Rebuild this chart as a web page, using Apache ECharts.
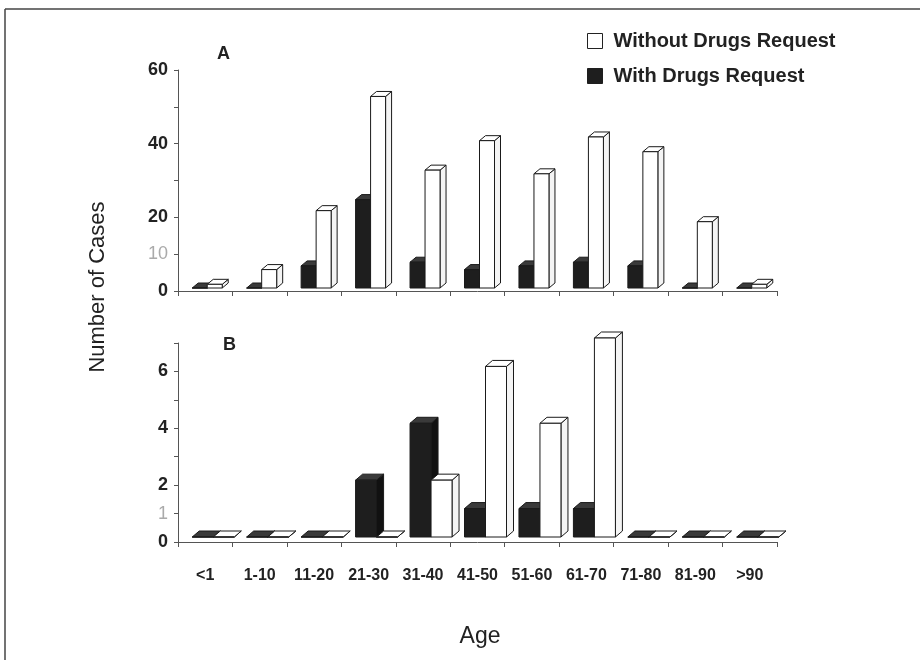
<!DOCTYPE html>
<html>
<head>
<meta charset="utf-8">
<style>
  html, body { margin: 0; padding: 0; background: #fff; }
  #main { width: 920px; height: 660px; }
</style>
<script src="https://cdn.jsdelivr.net/npm/echarts@6/dist/echarts.min.js"></script>
</head>
<body>
<div id="main"></div>
<script>
var categories = ['<1', '1-10', '11-20', '21-30', '31-40', '41-50', '51-60', '61-70', '71-80', '81-90', '>90']

// panel A
var aWith = [0, 0, 6, 24, 7, 5, 6, 7, 6, 0, 0]
var aWithout = [1, 5, 21, 52, 32, 40, 31, 41, 37, 18, 1]

// panel B
var bWith = [0, 0, 0, 2, 4, 1, 1, 1, 0, 0, 0]
var bWithout = [0, 0, 0, 0, 2, 6, 4, 7, 0, 0, 0]

var FONT = '"Liberation Sans", Arial, sans-serif'

// 3d look per panel
var look = [
  { w: 15, dx: 6, dy: 5, lift: 3, offWith: -13, offWithout: 2 },
  { w: 21, dx: 7, dy: 6, lift: 5, offWith: -13, offWithout: 8 }
]

function bar3d(panel, dark) {
  var p = look[panel]
  return function (params, api) {
    var idx = api.value(0)
    var base = api.coord([idx, 0])
    var top = api.coord([idx, api.value(1)])
    var x0 = base[0] + (dark ? p.offWith : p.offWithout)
    var x1 = x0 + p.w
    var y0 = base[1] - p.lift
    var y1 = top[1] - p.lift
    var stroke = '#1a1a1a'
    var front = dark ? '#1e1e1e' : '#ffffff'
    var topc = dark ? '#3a3a3a' : '#ffffff'
    var side = dark ? '#111' : '#f4f4f4'
    return {
      type: 'group',
      children: [
        { type: 'polygon', shape: { points: [[x1, y1], [x1 + p.dx, y1 - p.dy], [x1 + p.dx, y0 - p.dy], [x1, y0]] },
          style: { fill: side, stroke: stroke, lineWidth: 1 } },
        { type: 'polygon', shape: { points: [[x0, y1], [x0 + p.dx, y1 - p.dy], [x1 + p.dx, y1 - p.dy], [x1, y1]] },
          style: { fill: topc, stroke: stroke, lineWidth: 1 } },
        { type: 'rect', shape: { x: x0, y: y1, width: p.w, height: y0 - y1 },
          style: { fill: front, stroke: stroke, lineWidth: 1 } }
      ]
    }
  }
}

function pairs(arr) {
  return arr.map(function (v, i) { return [i, v] })
}

var axisColor = '#555'

function catAxis(idx, showLabels) {
  return {
    type: 'category', gridIndex: idx, data: categories, boundaryGap: true,
    axisLine: { lineStyle: { color: axisColor, width: 1 } },
    axisTick: { show: true, interval: 0, length: 5, lineStyle: { color: axisColor } },
    axisLabel: { show: showLabels, interval: 0, margin: 26, color: '#222',
      fontFamily: FONT, fontWeight: 'bold', fontSize: 16 },
    splitLine: { show: false }
  }
}

var myChart = echarts.init(document.getElementById('main'))

var option = {
  backgroundColor: '#fff',
  animation: false,
  legend: {
    orient: 'vertical', left: 582, top: 26, itemWidth: 15, itemHeight: 15, itemGap: 15,
    selectedMode: false,
    textStyle: { fontFamily: FONT, fontWeight: 'bold', fontSize: 20, color: '#222', padding: [0, 0, 0, 6] },
    data: [
      { name: 'Without Drugs Request', icon: 'rect', itemStyle: { color: '#fff', borderColor: '#222', borderWidth: 1 } },
      { name: 'With Drugs Request', icon: 'rect', itemStyle: { color: '#1e1e1e', borderColor: '#1e1e1e', borderWidth: 1 } }
    ]
  },
  grid: [
    { left: 178, top: 70, width: 599, height: 221 },
    { left: 178, top: 343, width: 599, height: 199 }
  ],
  xAxis: [catAxis(0, false), catAxis(1, true)],
  yAxis: [
    {
      type: 'value', gridIndex: 0, min: 0, max: 60, interval: 10,
      axisLine: { show: true, lineStyle: { color: axisColor } },
      axisTick: { show: true, length: 4, lineStyle: { color: axisColor } },
      splitLine: { show: false },
      axisLabel: {
        margin: 10,
        formatter: function (v) {
          if (v % 20 === 0) return '{b|' + v + '}'
          if (v === 10) return '{g|10}'
          return ''
        },
        rich: {
          b: { fontFamily: FONT, fontWeight: 'bold', fontSize: 18, color: '#222' },
          g: { fontFamily: FONT, fontSize: 18, color: '#aaa' }
        }
      }
    },
    {
      type: 'value', gridIndex: 1, min: 0, max: 7, interval: 1,
      axisLine: { show: true, lineStyle: { color: axisColor } },
      axisTick: { show: true, length: 4, lineStyle: { color: axisColor } },
      splitLine: { show: false },
      axisLabel: {
        margin: 10,
        formatter: function (v) {
          if (v % 2 === 0) return '{b|' + v + '}'
          if (v === 1) return '{g|1}'
          return ''
        },
        rich: {
          b: { fontFamily: FONT, fontWeight: 'bold', fontSize: 18, color: '#222' },
          g: { fontFamily: FONT, fontSize: 18, color: '#aaa' }
        }
      }
    }
  ],
  graphic: [
    { type: 'line', shape: { x1: 5, y1: 9, x2: 920, y2: 9 }, style: { stroke: '#444', lineWidth: 1.5 } },
    { type: 'line', shape: { x1: 5, y1: 9, x2: 5, y2: 660 }, style: { stroke: '#444', lineWidth: 1.5 } },
    { type: 'text', x: 217, y: 54, style: { text: 'A', font: 'bold 18px ' + FONT, fill: '#222', verticalAlign: 'middle' } },
    { type: 'text', x: 223, y: 345, style: { text: 'B', font: 'bold 18px ' + FONT, fill: '#222', verticalAlign: 'middle' } },
    { type: 'text', x: 98, y: 287, rotation: Math.PI / 2,
      style: { text: 'Number of Cases', font: '22px ' + FONT, fill: '#222', align: 'center', verticalAlign: 'middle' } },
    { type: 'text', x: 480, y: 637,
      style: { text: 'Age', font: '23px ' + FONT, fill: '#222', align: 'center', verticalAlign: 'middle' } }
  ],
  series: [
    { name: 'With Drugs Request', type: 'custom', xAxisIndex: 0, yAxisIndex: 0,
      renderItem: bar3d(0, true), data: pairs(aWith), itemStyle: { color: '#1e1e1e' }, z: 2 },
    { name: 'Without Drugs Request', type: 'custom', xAxisIndex: 0, yAxisIndex: 0,
      renderItem: bar3d(0, false), data: pairs(aWithout), itemStyle: { color: '#fff' }, z: 3 },
    { name: 'With Drugs Request', type: 'custom', xAxisIndex: 1, yAxisIndex: 1,
      renderItem: bar3d(1, true), data: pairs(bWith), itemStyle: { color: '#1e1e1e' }, z: 2 },
    { name: 'Without Drugs Request', type: 'custom', xAxisIndex: 1, yAxisIndex: 1,
      renderItem: bar3d(1, false), data: pairs(bWithout), itemStyle: { color: '#fff' }, z: 3 }
  ]
}

myChart.setOption(option)
</script>
</body>
</html>
